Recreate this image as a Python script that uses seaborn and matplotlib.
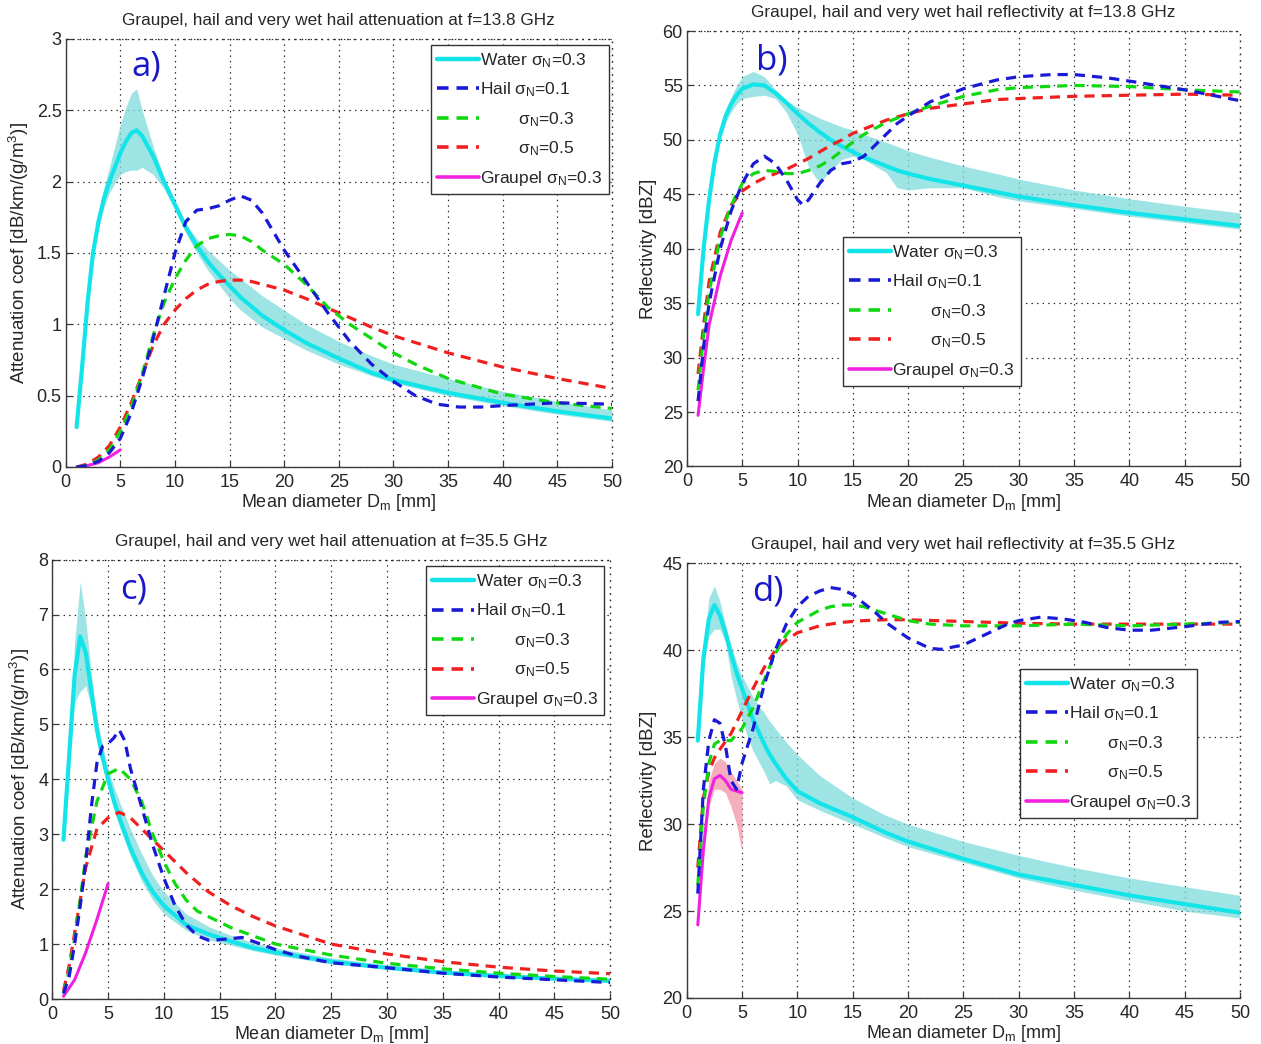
import numpy as np
import pandas as pd
import matplotlib
matplotlib.use("Agg")
import matplotlib.pyplot as plt
import seaborn as sns
from matplotlib.lines import Line2D

sns.set_style("white")
plt.rcParams['font.family'] = ['Liberation Sans', 'DejaVu Sans']
plt.rcParams['mathtext.fontset'] = 'custom'
plt.rcParams['mathtext.rm'] = 'Liberation Sans'
plt.rcParams['mathtext.it'] = 'Liberation Sans'

# ---------------- Panel a: attenuation 13.8 GHz ----------------
a_wx = [1, 1.5, 2, 2.5, 3, 3.5, 4, 4.5, 5, 5.5, 6, 6.5, 7, 8, 9, 10, 11, 12, 13, 14, 15, 16, 18, 20, 22, 25, 28, 30, 35, 40, 45, 50]
a_wmean = [0.28, 0.7, 1.15, 1.5, 1.72, 1.88, 2.0, 2.1, 2.2, 2.28, 2.34, 2.36, 2.32, 2.18, 2.0, 1.84, 1.68, 1.55, 1.44, 1.35, 1.27, 1.19, 1.06, 0.96, 0.87, 0.76, 0.66, 0.61, 0.52, 0.45, 0.39, 0.34]
a_wup = [0.3, 0.73, 1.2, 1.55, 1.78, 1.96, 2.1, 2.25, 2.4, 2.52, 2.62, 2.65, 2.5, 2.25, 2.03, 1.86, 1.7, 1.6, 1.52, 1.45, 1.38, 1.32, 1.2, 1.1, 1.0, 0.88, 0.78, 0.72, 0.62, 0.53, 0.46, 0.4]
a_wlo = [0.26, 0.67, 1.1, 1.45, 1.67, 1.82, 1.92, 1.99, 2.05, 2.07, 2.08, 2.08, 2.1, 2.05, 1.95, 1.8, 1.64, 1.5, 1.38, 1.28, 1.18, 1.1, 0.98, 0.9, 0.82, 0.72, 0.64, 0.59, 0.5, 0.43, 0.37, 0.32]
a_h1x = [1, 2, 3, 4, 5, 6, 7, 8, 9, 10, 11, 12, 13, 14, 15, 16, 17, 18, 19, 20, 22, 24, 26, 28, 30, 32, 34, 36, 38, 40, 45, 50]
a_h1y = [0.0, 0.01, 0.04, 0.1, 0.2, 0.38, 0.62, 0.9, 1.2, 1.5, 1.72, 1.8, 1.81, 1.83, 1.87, 1.9, 1.87, 1.78, 1.65, 1.52, 1.3, 1.08, 0.88, 0.72, 0.6, 0.5, 0.44, 0.42, 0.42, 0.43, 0.45, 0.44]
a_h3x = [1, 2, 3, 4, 5, 6, 7, 8, 9, 10, 11, 12, 13, 14, 15, 16, 17, 18, 20, 22, 24, 26, 28, 30, 32, 35, 40, 45, 50]
a_h3y = [0.0, 0.01, 0.05, 0.12, 0.25, 0.42, 0.65, 0.92, 1.15, 1.32, 1.45, 1.55, 1.6, 1.62, 1.63, 1.62, 1.58, 1.52, 1.42, 1.28, 1.12, 1.0, 0.9, 0.8, 0.72, 0.62, 0.51, 0.45, 0.41]
a_h5x = [1, 2, 3, 4, 5, 6, 7, 8, 9, 10, 11, 12, 13, 14, 15, 16, 17, 18, 20, 22, 25, 28, 30, 35, 40, 45, 50]
a_h5y = [0.0, 0.02, 0.07, 0.15, 0.28, 0.45, 0.65, 0.85, 1.0, 1.1, 1.18, 1.24, 1.28, 1.3, 1.31, 1.31, 1.3, 1.28, 1.24, 1.18, 1.08, 0.98, 0.92, 0.8, 0.7, 0.62, 0.55]
a_gx = [1, 2, 3, 4, 5]
a_gy = [0.0, 0.01, 0.03, 0.07, 0.12]

# ---------------- Panel b: reflectivity 13.8 GHz ----------------
b_wx = [1, 1.5, 2, 2.5, 3, 3.5, 4, 4.5, 5, 6, 7, 8, 9, 10, 11, 12, 13, 14, 15, 16, 18, 19, 20, 22, 25, 28, 30, 35, 40, 45, 50]
b_wmean = [34, 40, 44.5, 48, 50.5, 52.2, 53.3, 54.1, 54.7, 55.1, 55.0, 54.3, 53.4, 52.4, 51.5, 50.7, 50.0, 49.4, 48.9, 48.4, 47.6, 47.2, 46.9, 46.4, 45.8, 45.2, 44.8, 44.0, 43.3, 42.7, 42.1]
b_wup = [34.5, 40.5, 45, 48.5, 51, 52.8, 54, 55.0, 55.8, 56.3, 55.8, 54.6, 53.6, 53.0, 52.5, 52.0, 51.6, 51.2, 50.9, 50.5, 49.8, 49.4, 49.0, 48.4, 47.6, 46.9, 46.4, 45.4, 44.6, 43.9, 43.3]
b_wlo = [33.5, 39.5, 44, 47.5, 50, 51.6, 52.6, 53.3, 53.8, 54.0, 54.1, 53.8, 52.5, 50.5, 47.5, 46.0, 47.2, 48.2, 48.5, 48.2, 47.0, 45.6, 45.4, 45.6, 45.6, 44.8, 44.4, 43.7, 43.0, 42.4, 41.8]
b_h1x = [1, 1.5, 2, 3, 4, 5, 6, 7, 8, 9, 10, 10.5, 11, 12, 13, 14, 15, 16, 17, 18, 19, 20, 22, 25, 28, 30, 33, 35, 38, 40, 45, 50]
b_h1y = [26, 31, 35, 40, 43.5, 46, 47.8, 48.5, 47.8, 46.3, 44.5, 44.0, 44.5, 46.0, 47.2, 47.8, 48.0, 48.5, 49.5, 50.5, 51.5, 52.2, 53.5, 54.7, 55.5, 55.8, 56.0, 56.0, 55.7, 55.4, 54.6, 53.6]
b_h3x = [1, 1.5, 2, 3, 4, 5, 6, 7, 8, 9, 10, 11, 12, 13, 14, 15, 16, 18, 20, 22, 25, 28, 30, 35, 40, 45, 50]
b_h3y = [27, 32, 36, 41, 44, 46, 46.9, 47.2, 47.1, 46.9, 46.9, 47.2, 47.6, 48.2, 49.0, 49.8, 50.5, 51.6, 52.4, 53.1, 54.0, 54.6, 54.8, 55.0, 54.9, 54.6, 54.4]
b_h5x = [1, 1.5, 2, 3, 4, 5, 6, 7, 8, 9, 10, 11, 12, 13, 14, 15, 16, 18, 20, 22, 25, 28, 30, 35, 40, 45, 50]
b_h5y = [28.5, 33, 37, 41.5, 44, 45.3, 46.0, 46.5, 46.9, 47.3, 47.8, 48.3, 48.9, 49.5, 50.0, 50.6, 51.0, 51.8, 52.4, 52.9, 53.3, 53.7, 53.8, 54.0, 54.1, 54.2, 54.1]
b_gx = [1, 1.5, 2, 3, 4, 5]
b_gy = [24.7, 29, 33, 37.5, 40.8, 43.3]

# ---------------- Panel c: attenuation 35.5 GHz ----------------
c_wx = [1, 1.5, 2, 2.5, 3, 3.5, 4, 4.5, 5, 5.5, 6, 7, 8, 9, 10, 12, 14, 16, 18, 20, 25, 30, 35, 40, 45, 50]
c_wmean = [2.9, 4.4, 5.9, 6.6, 6.3, 5.6, 4.9, 4.4, 4.0, 3.62, 3.3, 2.75, 2.3, 1.95, 1.7, 1.35, 1.18, 1.05, 0.93, 0.85, 0.68, 0.57, 0.48, 0.42, 0.37, 0.33]
c_wup = [3.0, 4.6, 6.5, 7.6, 6.9, 5.9, 5.1, 4.62, 4.2, 3.88, 3.6, 3.1, 2.65, 2.25, 1.95, 1.55, 1.32, 1.16, 1.03, 0.93, 0.75, 0.62, 0.53, 0.46, 0.4, 0.36]
c_wlo = [2.85, 4.2, 5.4, 5.6, 5.7, 5.3, 4.7, 4.25, 3.85, 3.48, 3.15, 2.6, 2.15, 1.8, 1.55, 1.25, 1.08, 0.98, 0.88, 0.8, 0.64, 0.54, 0.46, 0.4, 0.35, 0.31]
c_h1x = [1, 1.5, 2, 2.5, 3, 3.5, 4, 4.5, 5, 5.5, 6, 6.5, 7, 8, 9, 10, 11, 12, 13, 14, 15, 16, 17, 18, 20, 22, 25, 30, 35, 40, 45, 50]
c_h1y = [0.1, 0.4, 1.0, 1.7, 2.5, 3.5, 4.3, 4.6, 4.65, 4.75, 4.9, 4.7, 4.2, 3.5, 2.8, 2.2, 1.7, 1.35, 1.15, 1.07, 1.08, 1.1, 1.12, 1.05, 0.9, 0.78, 0.66, 0.57, 0.47, 0.4, 0.35, 0.3]
c_h3x = [1, 1.5, 2, 2.5, 3, 4, 5, 6, 7, 8, 9, 10, 11, 12, 13, 14, 15, 16, 18, 20, 25, 30, 35, 40, 45, 50]
c_h3y = [0.1, 0.5, 1.1, 1.8, 2.6, 3.6, 4.1, 4.2, 4.0, 3.6, 3.0, 2.5, 2.1, 1.8, 1.6, 1.5, 1.4, 1.3, 1.15, 1.0, 0.8, 0.65, 0.55, 0.47, 0.41, 0.36]
c_h5x = [1, 1.5, 2, 2.5, 3, 4, 5, 6, 7, 8, 9, 10, 12, 14, 16, 18, 20, 25, 30, 35, 40, 45, 50]
c_h5y = [0.15, 0.6, 1.2, 1.8, 2.4, 3.1, 3.3, 3.4, 3.3, 3.1, 2.9, 2.7, 2.3, 1.95, 1.7, 1.5, 1.33, 1.0, 0.82, 0.68, 0.58, 0.51, 0.46]
c_gx = [1, 2, 3, 4, 5]
c_gy = [0.05, 0.35, 0.85, 1.45, 2.1]

# ---------------- Panel d: reflectivity 35.5 GHz ----------------
d_wx = [1, 1.5, 2, 2.5, 3, 3.5, 4, 4.5, 5, 5.5, 6, 6.5, 7, 7.5, 8, 9, 10, 12, 15, 18, 20, 25, 30, 35, 40, 45, 50]
d_wmean = [34.8, 39.5, 41.8, 42.6, 42.0, 41.0, 39.8, 38.7, 37.8, 36.9, 36.0, 35.3, 34.6, 34.0, 33.5, 32.6, 31.9, 31.2, 30.4, 29.5, 29.0, 28.0, 27.1, 26.5, 25.9, 25.4, 24.9]
d_wup = [35, 40, 43, 43.7, 42.8, 41.5, 40.3, 39.3, 38.5, 37.9, 37.3, 36.8, 36.4, 35.9, 35.5, 34.7, 34.0, 32.8, 31.5, 30.5, 30.0, 29.0, 28.2, 27.5, 26.9, 26.4, 25.9]
d_wlo = [34.6, 39, 40.8, 41.2, 41.2, 40.5, 38.5, 37.2, 36.0, 35.0, 34.2, 33.6, 33.0, 32.3, 32.5, 32.2, 31.4, 30.8, 30.0, 29.2, 28.7, 27.8, 26.9, 26.2, 25.6, 25.0, 24.6]
d_h1x = [1, 1.5, 2, 2.5, 3, 3.5, 4, 4.5, 5, 6, 7, 8, 9, 10, 11, 12, 13, 14, 15, 16, 17, 18, 20, 22, 23, 25, 27, 29, 30, 32, 34, 36, 38, 40, 42, 45, 48, 50]
d_h1y = [26, 32, 34.8, 36.0, 35.8, 34.5, 32.5, 32.0, 33.5, 35.5, 38.0, 40.0, 41.5, 42.5, 43.1, 43.4, 43.6, 43.5, 43.2, 42.7, 42.2, 41.6, 40.7, 40.1, 40.05, 40.3, 40.9, 41.5, 41.7, 41.9, 41.8, 41.6, 41.3, 41.15, 41.15, 41.35, 41.6, 41.65]
d_h3x = [1, 1.5, 2, 2.5, 3, 4, 5, 6, 7, 8, 9, 10, 12, 13, 14, 15, 16, 18, 20, 22, 25, 30, 35, 40, 45, 50]
d_h3y = [26.5, 31, 33.5, 34.6, 34.8, 34.8, 35.5, 36.7, 38.3, 39.8, 40.9, 41.6, 42.3, 42.5, 42.6, 42.6, 42.5, 42.1, 41.7, 41.5, 41.4, 41.4, 41.5, 41.4, 41.5, 41.6]
d_h5x = [1, 1.5, 2, 2.5, 3, 4, 5, 6, 7, 8, 9, 10, 12, 14, 16, 18, 20, 25, 30, 35, 40, 45, 50]
d_h5y = [27.5, 31.5, 33, 33.8, 34.3, 35.2, 36.5, 37.8, 39.0, 40.0, 40.6, 41.0, 41.4, 41.6, 41.7, 41.75, 41.75, 41.65, 41.55, 41.5, 41.5, 41.5, 41.5]
d_gx = [1, 1.5, 2, 2.5, 3, 3.5, 4, 4.5, 5]
d_gy = [24.2, 28.5, 31.5, 32.6, 32.8, 32.5, 32.0, 31.9, 31.8]
d_gup = [24.5, 29.0, 32.5, 33.5, 33.8, 33.6, 33.0, 32.5, 32.0]
d_glo = [24.0, 28.0, 31.0, 32.0, 32.0, 31.8, 31.0, 30.0, 28.4]

titles = ["Graupel, hail and very wet hail attenuation at f=13.8 GHz",
          "Graupel, hail and very wet hail reflectivity at f=13.8 GHz",
          "Graupel, hail and very wet hail attenuation at f=35.5 GHz",
          "Graupel, hail and very wet hail reflectivity at f=35.5 GHz"]
panel_tags = ["a)", "b)", "c)", "d)"]
ylabels = ["Attenuation coef [dB/km/(g/m$^3$)]", "Reflectivity [dBZ]",
           "Attenuation coef [dB/km/(g/m$^3$)]", "Reflectivity [dBZ]"]
xlabel = "Mean diameter D$_\\mathregular{m}$ [mm]"
legend_labels = ["Water $\\sigma_N$=0.3", "Hail $\\sigma_N$=0.1",
                 "        $\\sigma_N$=0.3", "        $\\sigma_N$=0.5",
                 "Graupel $\\sigma_N$=0.3"]

C_WATER = '#12e4ea'
C_BAND = '#7fdcdc'
C_H1 = '#1a1ad6'
C_H3 = '#10d810'
C_H5 = '#f02020'
C_G = '#f020e0'
C_TAG = '#1818c8'
C_AX = '#3a3a3a'

fig = plt.figure(figsize=(12.61, 10.44), dpi=100)
positions = [
    [0.0521, 0.5527, 0.4332, 0.4100],
    [0.5448, 0.5532, 0.4385, 0.4171],
    [0.0415, 0.0431, 0.4423, 0.4209],
    [0.5446, 0.0441, 0.4387, 0.4164],
]
panels = [
    dict(w=(a_wx, a_wmean, a_wlo, a_wup), h1=(a_h1x, a_h1y), h3=(a_h3x, a_h3y), h5=(a_h5x, a_h5y), g=(a_gx, a_gy), gb=None,
         ylim=(0, 3), yticks=[0, 0.5, 1, 1.5, 2, 2.5, 3], yfmt=['0', '0.5', '1', '1.5', '2', '2.5', '3'],
         leg=dict(loc='upper right', bbox=(0.994, 0.986)), tag=(0.148, 0.935)),
    dict(w=(b_wx, b_wmean, b_wlo, b_wup), h1=(b_h1x, b_h1y), h3=(b_h3x, b_h3y), h5=(b_h5x, b_h5y), g=(b_gx, b_gy), gb=None,
         ylim=(20, 60), yticks=list(range(20, 61, 5)), yfmt=None,
         leg=dict(loc='upper left', bbox=(0.282, 0.527)), tag=(0.154, 0.933)),
    dict(w=(c_wx, c_wmean, c_wlo, c_wup), h1=(c_h1x, c_h1y), h3=(c_h3x, c_h3y), h5=(c_h5x, c_h5y), g=(c_gx, c_gy), gb=None,
         ylim=(0, 8), yticks=list(range(0, 9)), yfmt=None,
         leg=dict(loc='upper right', bbox=(0.989, 0.985)), tag=(0.146, 0.933)),
    dict(w=(d_wx, d_wmean, d_wlo, d_wup), h1=(d_h1x, d_h1y), h3=(d_h3x, d_h3y), h5=(d_h5x, d_h5y), g=(d_gx, d_gy), gb=(d_gx, d_glo, d_gup),
         ylim=(20, 45), yticks=list(range(20, 46, 5)), yfmt=None,
         leg=dict(loc='upper left', bbox=(0.602, 0.757)), tag=(0.147, 0.936)),
]

dash = (3.2, 2.2)
for i, p in enumerate(panels):
    ax = fig.add_axes(positions[i])
    wx, wm, wl, wu = p['w']
    ax.fill_between(wx, wl, wu, color=C_BAND, alpha=0.75, linewidth=0, zorder=2)
    sns.lineplot(x=wx, y=wm, ax=ax, color=C_WATER, linewidth=3.0, zorder=3)
    if p['gb'] is not None:
        gx, gl, gu = p['gb']
        ax.fill_between(gx, gl, gu, color='#f4a0b0', alpha=0.85, linewidth=0, zorder=2)
    sns.lineplot(x=p['g'][0], y=p['g'][1], ax=ax, color=C_G, linewidth=2.2, zorder=4)
    sns.lineplot(x=p['h5'][0], y=p['h5'][1], ax=ax, color=C_H5, linewidth=2.3, dashes=dash, zorder=5)
    sns.lineplot(x=p['h3'][0], y=p['h3'][1], ax=ax, color=C_H3, linewidth=2.3, dashes=dash, zorder=5)
    sns.lineplot(x=p['h1'][0], y=p['h1'][1], ax=ax, color=C_H1, linewidth=2.3, dashes=dash, zorder=5)

    ax.set_xlim(0, 50)
    ax.set_ylim(*p['ylim'])
    ax.set_xticks(list(range(0, 51, 5)))
    ax.set_yticks(p['yticks'])
    if p['yfmt']:
        ax.set_yticklabels(p['yfmt'])
    ax.grid(True, linestyle=(0, (1.2, 3.5)), color='#222222', linewidth=0.85)
    ax.spines['top'].set_visible(False)
    ax.spines['right'].set_visible(False)
    for s in ('left', 'bottom'):
        ax.spines[s].set_color(C_AX)
        ax.spines[s].set_linewidth(1.0)
    ax.axhline(p['ylim'][1], color='#222222', linewidth=1.0, linestyle=(0, (1.2, 3.5)), clip_on=False, zorder=1)
    ax.axvline(50, color='#222222', linewidth=1.0, linestyle=(0, (1.2, 3.5)), clip_on=False, zorder=1)
    ax.tick_params(direction='in', length=4, width=0.9, color=C_AX, labelsize=13, pad=5,
                   top=False, right=False, bottom=True, left=True)
    ax.tick_params(axis='y', pad=3)
    ax.set_title(titles[i], fontsize=12.3, pad=10)
    ax.set_xlabel(xlabel, fontsize=13, labelpad=1)
    ax.set_ylabel(ylabels[i], fontsize=13.5, labelpad=4)
    ax.text(p['tag'][0], p['tag'][1], panel_tags[i], transform=ax.transAxes, fontsize=25,
            color=C_TAG, ha='center', va='center', family='Open Sans', zorder=10)

    handles = [Line2D([], [], color=C_WATER, linewidth=3.2),
               Line2D([], [], color=C_H1, linewidth=2.6, dashes=dash),
               Line2D([], [], color=C_H3, linewidth=2.6, dashes=dash),
               Line2D([], [], color=C_H5, linewidth=2.6, dashes=dash),
               Line2D([], [], color=C_G, linewidth=2.6)]
    leg = ax.legend(handles, legend_labels, loc=p['leg']['loc'], bbox_to_anchor=p['leg']['bbox'],
                    fontsize=12.5, frameon=True, fancybox=False, handlelength=2.4, handletextpad=0.1,
                    labelspacing=0.62, borderpad=0.35, borderaxespad=0.0)
    leg.get_frame().set_edgecolor('#333333')
    leg.get_frame().set_linewidth(1.0)
    leg.get_frame().set_alpha(1.0)
    leg.set_zorder(20)

fig.savefig("out.png", dpi=100)
